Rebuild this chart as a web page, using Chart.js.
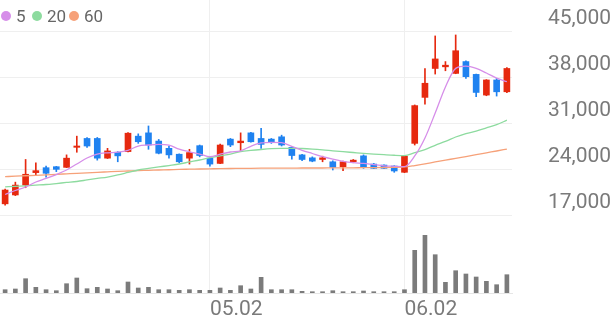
<!DOCTYPE html>
<html>
<head>
<meta charset="utf-8">
<script src="https://cdn.jsdelivr.net/npm/chart.js@4/dist/chart.umd.min.js"></script>
<style>
  html, body { margin: 0; padding: 0; background: #fff; }
  .wrap { position: relative; width: 616px; height: 321px; }
  .legend-item { position: absolute; top: 6px; height: 20px; display: flex; align-items: center; font: 17px Roboto, sans-serif; color: #666; }
  .legend-item i { display: inline-block; width: 10px; height: 10px; border-radius: 50%; margin-right: 5px; }
</style>
</head>
<body>
<div class="wrap">
  <canvas id="stockChart"></canvas>
  <div class="legend-item" style="left:1px"><i style="background:#d68ee9"></i>5</div>
  <div class="legend-item" style="left:32px"><i style="background:#8ddb9f"></i>20</div>
  <div class="legend-item" style="left:69px"><i style="background:#f6a179"></i>60</div>
</div>
<script>
/* Data */

const dates = ['04.03', '04.04', '04.07', '04.08', '04.09', '04.10', '04.11', '04.14', '04.15', '04.16',
  '04.17', '04.18', '04.21', '04.22', '04.23', '04.24', '04.25', '04.28', '04.29', '04.30',
  '05.02', '05.07', '05.08', '05.09', '05.12', '05.13', '05.14', '05.15', '05.16', '05.19',
  '05.20', '05.21', '05.22', '05.23', '05.26', '05.27', '05.28', '05.29', '05.30', '06.02',
  '06.04', '06.05', '06.09', '06.10', '06.11', '06.12', '06.13', '06.16', '06.17', '06.18'];
const tickLabels = ['05.02', '06.02'];
const priceTicks = [17000, 24000, 31000, 38000, 45000];

const openPrices = [18700, 20050, 21550, 23450, 24200, 24350, 24250, 27300, 28650, 28650,
  25650, 26550, 26650, 29000, 29500, 28250, 27150, 26250, 25650, 27550,
  25650, 24850, 28550, 28000, 29500, 28650, 28550, 28900, 27300, 26150,
  25700, 25450, 25100, 24350, 25100, 26000, 24750, 24600, 24450, 23500,
  27900, 34900, 39300, 39550, 38550, 40350, 38400, 35250, 37550, 35750];
const highPrices = [20950, 22000, 25450, 24950, 24450, 24400, 26150, 29000, 28800, 28800,
  27150, 26650, 29550, 29350, 30550, 28500, 27500, 26300, 27000, 27650,
  25850, 27800, 28650, 29500, 29600, 30200, 28650, 29150, 27400, 26250,
  25850, 25950, 25250, 25200, 25450, 26150, 24850, 24650, 24500, 26050,
  33750, 39300, 44250, 40350, 44400, 40450, 38450, 37600, 37800, 39450];
const lowPrices = [18500, 19950, 21150, 23100, 22750, 23600, 24200, 26550, 27300, 25350,
  25600, 25100, 26600, 27900, 27000, 26300, 25650, 24950, 24750, 25850,
  24450, 24800, 27400, 26650, 28100, 27150, 27900, 27500, 25500, 25250,
  25100, 25100, 23850, 23750, 24950, 24100, 24050, 24050, 23500, 23450,
  27650, 33850, 38450, 38950, 38500, 37800, 35000, 35150, 35100, 35600];
const closePrices = [20800, 21550, 23200, 23750, 23350, 23950, 25650, 27500, 27500, 25650,
  26750, 26000, 29450, 28150, 27650, 26400, 26150, 25100, 26500, 26050,
  24750, 27650, 27650, 28250, 28150, 27750, 28050, 27650, 26050, 25450,
  25200, 25700, 24250, 25100, 25350, 24250, 24100, 24100, 23700, 25950,
  33650, 37050, 40750, 39800, 42000, 38050, 35650, 37550, 35750, 39300];
const volumes = [132000, 160000, 572000, 228000, 132000, 92000, 372000, 600000, 172000, 228000,
  160000, 92000, 440000, 200000, 228000, 132000, 132000, 108000, 132000, 108000,
  108000, 200000, 108000, 292000, 160000, 628000, 132000, 132000, 132000, 68000,
  52000, 52000, 92000, 52000, 52000, 80000, 52000, 52000, 52000, 132000,
  1708000, 2308000, 1532000, 428000, 892000, 760000, 640000, 468000, 332000, 732000];

const ma5 = [20120, 20730, 21260, 22020, 22560, 23160, 23850, 24760, 25670, 26280,
  26470, 26560, 26850, 27500, 27650, 27760, 27650, 27010, 26620, 26280,
  25870, 26250, 26590, 26770, 27460, 27960, 28060, 28000, 27460, 26850,
  26360, 25870, 25490, 25170, 24960, 24850, 24660, 24490, 24410, 24350,
  25980, 28720, 32520, 36480, 39320, 39670, 39320, 38610, 37820, 37290];
const ma20 = [21290, 21370, 21440, 21540, 21640, 21790, 21950, 22100, 22330, 22560,
  22780, 23090, 23470, 23850, 24080, 24310, 24530, 24760, 25070, 25370,
  25720, 26010, 26280, 26630, 26820, 26970, 27090, 27150, 27150, 27120,
  27040, 26920, 26770, 26630, 26510, 26390, 26280, 26180, 26090, 26040,
  26480, 26950, 27610, 28190, 28870, 29390, 29770, 30250, 30740, 31430];
const ma60 = [22830, 22910, 22970, 23040, 23120, 23190, 23270, 23350, 23420, 23500,
  23570, 23640, 23700, 23760, 23800, 23850, 23890, 23940, 23970, 24000,
  24030, 24060, 24080, 24090, 24110, 24120, 24120, 24140, 24140, 24150,
  24150, 24150, 24170, 24170, 24180, 24200, 24210, 24230, 24260, 24310,
  24530, 24790, 25070, 25340, 25630, 25900, 26180, 26470, 26740, 27040];

/* Chart */

const UP = '#e6290f';
const DOWN = '#1f82f0';
const GRID = '#efefef';

Chart.defaults.font.family = 'Roboto';

function candleColor(ctx) {
  const i = ctx.dataIndex;
  return closePrices[i] >= openPrices[i] ? UP : DOWN;
}

const bodies = dates.map(function(d, i) { return [openPrices[i], closePrices[i]]; });
const wicks = dates.map(function(d, i) { return [lowPrices[i], highPrices[i]]; });

const maLine = function(label, data, color) {
  return {
    type: 'line', label: label, data: data, yAxisID: 'y', order: 0,
    borderColor: color, borderWidth: 1.3, pointRadius: 0,
    cubicInterpolationMode: 'monotone'
  };
};

let ctx = document.getElementById('stockChart').getContext('2d');
// eslint-disable-next-line
let chart = new Chart(ctx, {
  type: 'bar',
  data: {
    labels: dates,
    datasets: [
      maLine('5', ma5, '#d68ee9'),
      maLine('20', ma20, '#8ddb9f'),
      maLine('60', ma60, '#f6a179'),
      {
        label: 'body', data: bodies, yAxisID: 'y', order: 1, grouped: false,
        backgroundColor: candleColor, barThickness: 6, minBarLength: 1
      },
      {
        label: 'wick', data: wicks, yAxisID: 'y', order: 2, grouped: false,
        backgroundColor: candleColor, barThickness: 1
      },
      {
        label: 'volume', data: volumes, yAxisID: 'yv', order: 3, grouped: false,
        backgroundColor: '#7b7b7b', barThickness: 4
      }
    ]
  },
  options: {
    responsive: true,
    maintainAspectRatio: false,
    animation: false,
    layout: { padding: 0 },
    plugins: {
      legend: { display: false },
      tooltip: { enabled: false }
    },
    scales: {
      x: {
        offset: true,
        grid: {
          offset: false,
          drawTicks: false,
          color: function(c) { return tickLabels.includes(dates[c.index]) ? GRID : 'transparent'; }
        },
        border: { display: true, color: '#e6e6e6' },
        ticks: {
          autoSkip: false,
          maxRotation: 0,
          align: 'start',
          padding: 4,
          color: '#7a7a7a',
          font: { size: 21 },
          callback: function(v, i) { return tickLabels.includes(dates[i]) ? dates[i] : ''; }
        },
        afterFit: function(s) { s.height = 28; s.paddingLeft = 0; s.paddingRight = 0; }
      },
      y: {
        position: 'right',
        min: 5130,
        max: 49720,
        afterBuildTicks: function(s) { s.ticks = priceTicks.map(function(v) { return { value: v }; }); },
        grid: { color: GRID, drawTicks: false },
        border: { display: false },
        ticks: {
          padding: 36,
          labelOffset: -12,
          color: '#7a7a7a',
          font: { size: 21 },
          callback: function(v) { return v.toLocaleString('en-US'); }
        },
        afterFit: function(s) { s.width = 104; s.paddingTop = 0; s.paddingBottom = 0; }
      },
      yv: {
        display: false,
        min: 0,
        max: 11720000
      }
    }
  }
});
</script>
</body>
</html>
